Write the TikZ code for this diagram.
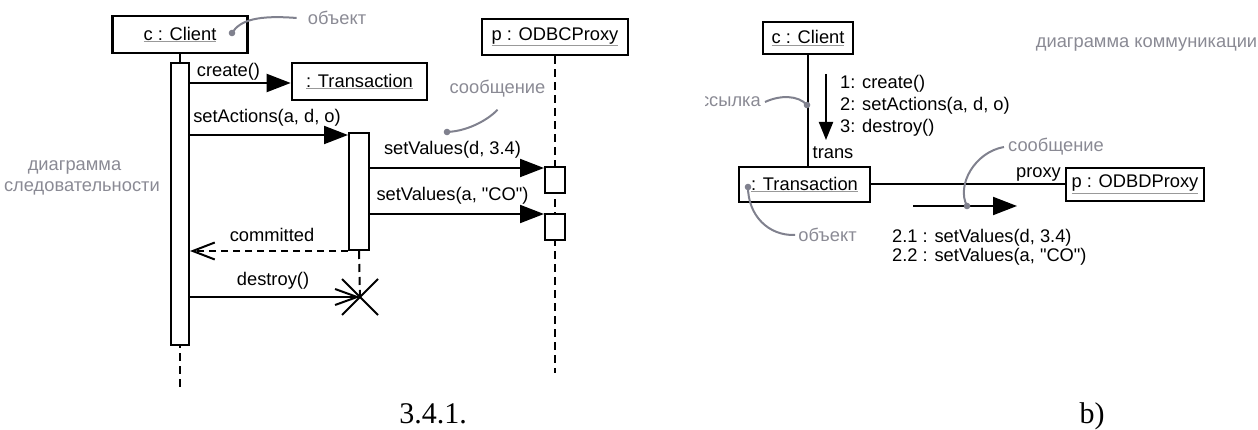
\documentclass[tikz,border=0pt]{standalone}
\usepackage{fontspec}
\setmainfont{Liberation Sans}[Ligatures=TeXOff]
\newfontfamily\capfont{Liberation Serif}
\usetikzlibrary{arrows.meta,calc}
\definecolor{notegray}{RGB}{128,129,142}
\definecolor{notetext}{RGB}{138,138,148}
\newcommand{\fs}{\fontsize{18.3}{22}\selectfont}
\newcommand{\objname}[1]{\textcolor{black!40}{\underline{\textcolor{black}{#1}}}}
\begin{document}
\begin{tikzpicture}[x=1pt,y=-1pt,
  obj/.style={draw, line width=2.6pt, inner sep=0pt, font=\fs},
  bar/.style={draw, fill=white, line width=2pt, inner sep=0pt},
  msg/.style={line width=2pt, -{Triangle[length=24pt,width=18pt]}},
  smallmsg/.style={line width=2pt, -{Triangle[length=18pt,width=14pt]}},
  reply/.style={line width=2pt, dash pattern=on 7pt off 5pt,
    -{Straight Barb[length=22pt,width=17pt,line width=2pt]}},
  kill/.style={line width=2pt, -{Straight Barb[length=22pt,width=16pt,line width=2pt]}},
  life/.style={line width=2pt, dash pattern=on 8pt off 5pt},
  link/.style={line width=2pt},
  lbl/.style={inner sep=0pt, font=\fs},
  note/.style={inner sep=0pt, font=\fs, text=notetext},
  callout/.style={line width=2pt, draw=notegray},
  dotr/.style={fill=notegray},
  caption/.style={font=\capfont\fontsize{30}{30}\selectfont, inner sep=0pt, anchor=base}]
\useasboundingbox (0,0) rectangle (1258,430);

% ---------------- sequence diagram ----------------
\node[obj, minimum width=135pt, minimum height=37pt] (cl) at (180,34.5) {\objname{c : Client}};
\node[obj, minimum width=135pt, minimum height=37pt] (tx) at (359.5,81.5) {\objname{: Transaction}};
\node[obj, minimum width=146pt, minimum height=36pt] (px) at (555,37) {\objname{p : ODBCProxy}};

\coordinate (clend) at (180,390);
\coordinate (pxend) at (555,373);
\coordinate (xx) at (360,297);

\draw[life] (cl.south) -- (clend);
\draw[life] (px.south) -- (pxend);

\node[bar, minimum width=18pt, minimum height=282pt] (ca) at (180,204) {};
\node[bar, minimum width=20pt, minimum height=117pt] (ta) at (359,191.5) {};
\draw[life] (ta.south) -- (xx);
\node[bar, minimum width=20pt, minimum height=26pt] (pa1) at (555,180) {};
\node[bar, minimum width=20pt, minimum height=26pt] (pa2) at (555,227) {};

\coordinate (r1) at (0,83);
\coordinate (r2) at (0,135);
\coordinate (r3) at (0,168);
\coordinate (r4) at (0,214);

\draw[msg] (ca.east |- r1) -- (tx.west |- r1);
\draw[msg] (ca.east |- r2) -- (ta.west |- r2);
\draw[msg] (ta.east |- r3) -- (pa1.west |- r3);
\draw[msg] (ta.east |- r4) -- (pa2.west |- r4);
\draw[reply] (ta.south west) -- (ca.east |- ta.south west);
\draw[kill] (ca.east |- xx) -- (xx);
\draw[line width=2pt] ($(xx)+(-18,-18)$) -- ($(xx)+(18,18)$);
\draw[line width=2pt] ($(xx)+(-18,18)$) -- ($(xx)+(18,-18)$);

\node[lbl] (lcreate) at (228.5,72) {create()};
\node[lbl] (lsetact) at (267,118) {setActions(a, d, o)};
\node[lbl] (lsv1) at (452.5,150) {setValues(d, 3.4)};
\node[lbl] (lsv2) at (452.5,196) {setValues(a, "CO")};
\node[lbl] (lcomm) at (272,235) {committed};
\node[lbl] (ldestroy) at (273,281) {destroy()};

% notes
\node[note] (nobj1) at (337,18) {объект};
\coordinate (d1) at (232,33);
\draw[callout] (d1) .. controls (240,20) and (258,15) .. ([xshift=-11pt]nobj1.west);
\fill[dotr] (d1) circle (3.3pt);

\node[note] (nmsg1) at (497.5,89) {сообщение};
\coordinate (d2) at (447,132);
\draw[callout] (d2) .. controls (470,131) and (490,118) .. ([yshift=-12pt]nmsg1.south);
\fill[dotr] (d2) circle (3.3pt);

\node[note] (nseq1) at (74.5,167) {диаграмма};
\node[note, anchor=east] (nseq2) at (160,188) {следовательности};

\node[caption] (cap1) at (433,423) {3.4.1.};

% ---------------- communication diagram ----------------
\node[obj, minimum width=90pt, minimum height=32pt] (cc) at (808,38) {\objname{c : Client}};
\node[obj, minimum width=131pt, minimum height=35pt] (ct) at (804.5,184.5) {\objname{: Transaction}};
\node[obj, minimum width=138pt, minimum height=33pt] (cp) at (1135,184.5) {\objname{p : ODBDProxy}};

\draw[link] (cc.south) -- (cc.south |- ct.north);
\draw[link] (ct.east) -- (cp.west);

\coordinate (m1a) at (826,74);
\coordinate (m1b) at (826,140);
\draw[smallmsg] (m1a) -- (m1b);
\node[lbl, anchor=west, align=left] (lm1) at (840,106) {1: create()\\2: setActions(a, d, o)\\3: destroy()};
\node[lbl] (ltrans) at (833,153) {trans};
\node[lbl] (lproxy) at (1038.5,174) {proxy};

\coordinate (m2a) at (913,206);
\coordinate (m2b) at (1017,206);
\draw[msg] (m2a) -- (m2b);
\node[lbl, anchor=west, align=left, font=\fontsize{18.3}{19.5}\selectfont] (lm2) at (892,247.5) {2.1 : setValues(d, 3.4)\\2.2 : setValues(a, "CO")};

\node[note] (ncomm) at (1146.5,44) {диаграмма коммуникации};

\begin{scope}
\clip (705,0) rectangle (1258,430);
\node[note, anchor=east] (nlink) at (761,102) {ссылка};
\end{scope}
\coordinate (d3) at (807,105);
\draw[callout] ([xshift=4pt]nlink.east) .. controls (780,95) and (798,95) .. (d3);
\fill[dotr] (d3) circle (3.3pt);

\node[note] (nmsg2) at (1056,147) {сообщение};
\coordinate (d4) at (967,206);
\draw[callout] ([xshift=-4pt]nmsg2.west) .. controls (975,152) and (956,185) .. (d4);
\fill[dotr] (d4) circle (3.3pt);

\node[note] (nobj2) at (827.5,235) {объект};
\coordinate (d5) at (748,187);
\draw[callout] (d5) .. controls (748,215) and (768,236) .. ([xshift=-3pt]nobj2.west);
\fill[dotr] (d5) circle (3.3pt);

\node[caption] (cap2) at (1092,423) {b)};
\end{tikzpicture}
\end{document}
